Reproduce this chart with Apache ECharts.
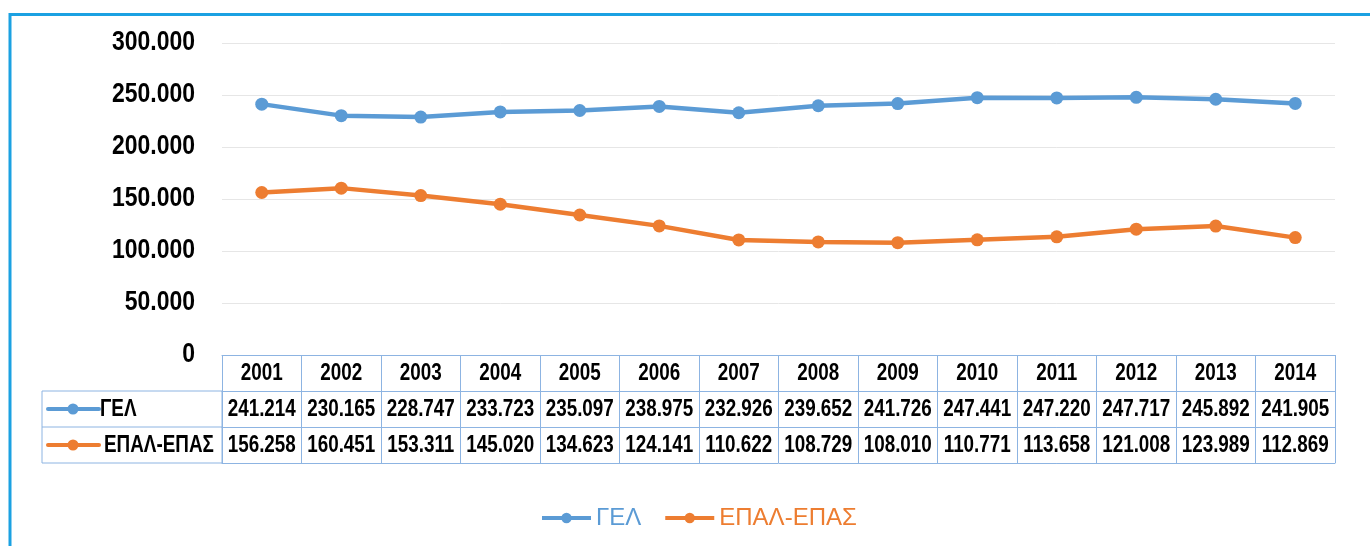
<!DOCTYPE html>
<html><head><meta charset="utf-8">
<script src="https://cdn.jsdelivr.net/npm/echarts@6/dist/echarts.min.js"></script>
<style>html,body{margin:0;padding:0;background:#fff}#c{width:1370px;height:546px}</style>
</head><body><div id="c"></div>
<script>
const years = ['2001','2002','2003','2004','2005','2006','2007','2008','2009','2010','2011','2012','2013','2014'];
const gel = [241214,230165,228747,233723,235097,238975,232926,239652,241726,247441,247220,247717,245892,241905];
const epal = [156258,160451,153311,145020,134623,124141,110622,108729,108010,110771,113658,121008,123989,112869];
const seriesNames = ['ΓΕΛ','ΕΠΑΛ-ΕΠΑΣ'];
const yTicks = [0,50000,100000,150000,200000,250000,300000];

const BLUE = '#5B9BD5', ORANGE = '#ED7D31', BORDER = '#8DB4E2';
const FONT = '"Liberation Sans",Arial,sans-serif';
const NARROW = 0.82;
function fmt(v){ return String(v).replace(/\B(?=(\d{3})+(?!\d))/g,'.'); }

const chart = echarts.init(document.getElementById('c'), null, {renderer:'canvas'});
function rowAxis(offset, tickLen){
  return {
    type:'category', data: years, position:'bottom', gridIndex:0, offset: offset,
    boundaryGap:true,
    axisLine:{show:true, lineStyle:{color:BORDER, width:1}},
    axisTick:{show: tickLen>0, length: tickLen, lineStyle:{color:BORDER, width:1}},
    axisLabel:{show:false},
    splitLine:{show:false}
  };
}
const option = {
  animation:false,
  backgroundColor:'#fff',
  grid:{left:222, right:35, top:43, bottom:191, containLabel:false},
  xAxis:[ rowAxis(0, 36), rowAxis(36, 36), rowAxis(72, 36), rowAxis(108, 0) ],
  yAxis:{
    type:'value', min:yTicks[0], max:yTicks[yTicks.length-1], interval:50000,
    axisLine:{show:false}, axisTick:{show:false}, axisLabel:{show:false},
    splitLine:{lineStyle:{color:'#E6E6E6', width:1}}
  },
  legend:{
    bottom:11, left:535, itemWidth:49, itemHeight:13, itemGap:22,
    lineStyle:{width:4},
    textStyle:{fontFamily:FONT, fontSize:24},
    data:[{name:seriesNames[0], textStyle:{color:BLUE}},{name:seriesNames[1], textStyle:{color:ORANGE}}]
  },
  series:[
    {name:seriesNames[0], type:'line', data:gel, color:BLUE, symbol:'circle', symbolSize:13,
     lineStyle:{width:4.5, color:BLUE}, itemStyle:{color:BLUE}},
    {name:seriesNames[1], type:'line', data:epal, color:ORANGE, symbol:'circle', symbolSize:13,
     lineStyle:{width:4.5, color:ORANGE}, itemStyle:{color:ORANGE}}
  ]
};
chart.setOption(option);

// Text drawn through the chart's own scales, narrowed horizontally
function txt(x, y, text, size, align, bold){
  return {type:'text', x:x, y:y, scaleX:NARROW, silent:true,
    style:{text:text, fontFamily:FONT, fontWeight: bold ? 'bold' : 'normal', fontSize:size, fill:'#000',
      align:align, verticalAlign:'middle'}};
}
const g = [];
g.push({type:'rect', shape:{x:10, y:14.5, width:1500, height:700}, style:{fill:null, stroke:'#1BA1E2', lineWidth:3}, silent:true});
const y0 = chart.convertToPixel({yAxisIndex:0}, 0);
const gridLeft = chart.convertToPixel({xAxisIndex:0}, years[0]) - (chart.convertToPixel({xAxisIndex:0}, years[1]) - chart.convertToPixel({xAxisIndex:0}, years[0]))/2;
yTicks.forEach(t => {
  g.push(txt(195, chart.convertToPixel({yAxisIndex:0}, t) - 0.5, fmt(t), 28, 'right', true));
});
const rowH = 36;
years.forEach((yr, i) => {
  const cx = chart.convertToPixel({xAxisIndex:0}, yr);
  g.push(txt(cx, y0 + rowH*0.5 + 1, yr, 23, 'center', true));
  g.push(txt(cx, y0 + rowH*1.5 + 1, fmt(gel[i]), 23, 'center', true));
  g.push(txt(cx, y0 + rowH*2.5 + 1, fmt(epal[i]), 23, 'center', true));
});
// left legend column of the table
const L = 42;
g.push({type:'rect', shape:{x:L, y:y0+rowH, width:gridLeft-L, height:rowH*2}, style:{fill:null, stroke:BORDER, lineWidth:1}, silent:true});
g.push({type:'line', shape:{x1:L, y1:y0+rowH*2, x2:gridLeft, y2:y0+rowH*2}, style:{stroke:BORDER, lineWidth:1}, silent:true});
[[BLUE, seriesNames[0], 100],[ORANGE, seriesNames[1], 104]].forEach((s, k) => {
  const cy = y0 + rowH*(1.5+k);
  g.push({type:'line', shape:{x1:48, y1:cy, x2:99, y2:cy}, style:{stroke:s[0], lineWidth:4, lineCap:'round'}, silent:true});
  g.push({type:'circle', shape:{cx:73, cy:cy, r:5.5}, style:{fill:s[0]}, silent:true});
  g.push(txt(s[2], cy + 1, s[1], 23, 'left', true));
});
chart.setOption({graphic:g});
</script></body></html>
